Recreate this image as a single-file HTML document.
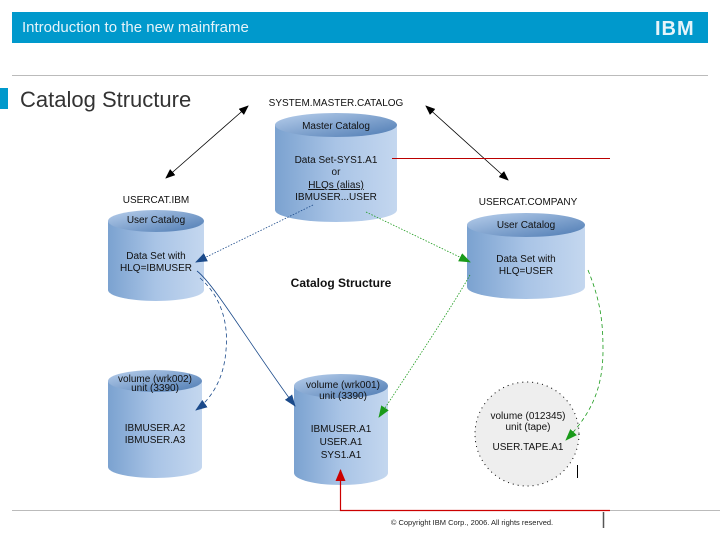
<!DOCTYPE html>
<html><head><meta charset="utf-8"><style>
body{margin:0;width:720px;height:540px;overflow:hidden;background:#fff;font-family:"Liberation Sans",sans-serif}
</style></head><body>
<svg width="720" height="540" viewBox="0 0 720 540" xmlns="http://www.w3.org/2000/svg" font-family="Liberation Sans, sans-serif">
<defs>
<linearGradient id="cg" x1="0" x2="1" y1="0" y2="0">
<stop offset="0" stop-color="#7ba2d0"/><stop offset="0.5" stop-color="#a9c4e6"/><stop offset="1" stop-color="#c4d7ef"/></linearGradient>
<linearGradient id="tg" x1="0" x2="1" y1="0" y2="1">
<stop offset="0" stop-color="#b8cfec"/><stop offset="1" stop-color="#4e7bb3"/></linearGradient>
<marker id="ak" markerWidth="10" markerHeight="8" refX="9" refY="4" orient="auto-start-reverse" markerUnits="userSpaceOnUse"><path d="M0,0L10,4L0,8z" fill="#000"/></marker>
<marker id="ab" markerWidth="12" markerHeight="9" refX="11" refY="4.5" orient="auto" markerUnits="userSpaceOnUse"><path d="M0,0L12,4.5L0,9z" fill="#1b4a8a"/></marker>
<marker id="ag" markerWidth="12" markerHeight="9" refX="11" refY="4.5" orient="auto" markerUnits="userSpaceOnUse"><path d="M0,0L12,4.5L0,9z" fill="#1a9a1a"/></marker>
<marker id="ar" markerWidth="10" markerHeight="12" refX="5" refY="1" orient="0" markerUnits="userSpaceOnUse"><path d="M0,12L5,0L10,12z" fill="#c00"/></marker>
</defs>
<rect x="12" y="12" width="696" height="31" fill="#0099cc"/>
<text x="22" y="32" font-size="15" fill="#e6f4fa">Introduction to the new mainframe</text>
<text x="655" y="35" font-size="20" font-weight="bold" fill="#e6f4fa" letter-spacing="1">IBM</text>
<line x1="12" y1="75.5" x2="708" y2="75.5" stroke="#bbb"/>
<rect x="0" y="88" width="8" height="21" fill="#0099cc"/>
<text x="20" y="107" font-size="22" fill="#333">Catalog Structure</text>

<!-- cylinders -->
<g>
<path d="M275,125 L275,210 A61,12 0 0 0 397,210 L397,125 Z" fill="url(#cg)"/>
<ellipse cx="336" cy="125" rx="61" ry="12" fill="url(#tg)"/>
</g>
<g>
<path d="M108,221 L108,290 A48,11 0 0 0 204,290 L204,221 Z" fill="url(#cg)"/>
<ellipse cx="156" cy="221" rx="48" ry="11" fill="url(#tg)"/>
</g>
<g>
<path d="M467,225 L467,287 A59,12 0 0 0 585,287 L585,225 Z" fill="url(#cg)"/>
<ellipse cx="526" cy="225" rx="59" ry="12" fill="url(#tg)"/>
</g>
<g>
<path d="M108,381 L108,467 A47,11 0 0 0 202,467 L202,381 Z" fill="url(#cg)"/>
<ellipse cx="155" cy="381" rx="47" ry="11" fill="url(#tg)"/>
</g>
<g>
<path d="M294,386 L294,473 A47,12 0 0 0 388,473 L388,386 Z" fill="url(#cg)"/>
<ellipse cx="341" cy="386" rx="47" ry="12" fill="url(#tg)"/>
</g>
<circle cx="527" cy="434" r="52" fill="#eee" stroke="#000" stroke-dasharray="1,4"/>
<rect x="571" y="465" width="40" height="20" fill="#fff"/>
<line x1="577.5" y1="465" x2="577.5" y2="478" stroke="#000"/>

<g font-size="10" fill="#111" text-anchor="middle">
<text x="336" y="106">SYSTEM.MASTER.CATALOG</text>
<text x="336" y="129">Master Catalog</text>
<text x="336" y="163">Data Set-SYS1.A1</text>
<text x="336" y="175">or</text>
<text x="336" y="188" text-decoration="underline">HLQs  (alias)</text>
<text x="336" y="200">IBMUSER...USER</text>
<text x="156" y="203">USERCAT.IBM</text>
<text x="156" y="223">User Catalog</text>
<text x="156" y="259">Data Set with</text>
<text x="156" y="271">HLQ=IBMUSER</text>
<text x="528" y="205">USERCAT.COMPANY</text>
<text x="526" y="228">User Catalog</text>
<text x="526" y="262">Data Set with</text>
<text x="526" y="274">HLQ=USER</text>
<text x="155" y="382">volume (wrk002)</text>
<text x="155" y="391">unit (3390)</text>
<text x="155" y="431">IBMUSER.A2</text>
<text x="155" y="443">IBMUSER.A3</text>
<text x="343" y="388">volume (wrk001)</text>
<text x="343" y="399">unit (3390)</text>
<text x="341" y="432">IBMUSER.A1</text>
<text x="341" y="445">USER.A1</text>
<text x="341" y="458">SYS1.A1</text>
<text x="528" y="419">volume (012345)</text>
<text x="528" y="430">unit (tape)</text>
<text x="528" y="450">USER.TAPE.A1</text>
</g>
<text x="341" y="287" font-size="12" font-weight="bold" text-anchor="middle" fill="#111">Catalog Structure</text>

<!-- arrows -->
<line x1="166" y1="178" x2="248" y2="106" stroke="#000" stroke-width="0.8" marker-start="url(#ak)" marker-end="url(#ak)"/>
<line x1="426" y1="106" x2="508" y2="180" stroke="#000" stroke-width="0.8" marker-start="url(#ak)" marker-end="url(#ak)"/>
<line x1="313" y1="205" x2="196" y2="262" stroke="#1b4a8a" stroke-width="0.8" stroke-dasharray="1.5,1.5" marker-end="url(#ab)"/>
<line x1="366" y1="212" x2="470" y2="262" stroke="#1a9a1a" stroke-width="0.8" stroke-dasharray="1.5,1.5" marker-end="url(#ag)"/>
<path d="M197,271 C215,285 250,345 295,406" fill="none" stroke="#1b4a8a" stroke-width="0.8" marker-end="url(#ab)"/>
<path d="M200,278 C225,300 228,330 226,350 C224,380 210,400 196,410" fill="none" stroke="#1b4a8a" stroke-width="0.8" stroke-dasharray="4,3" marker-end="url(#ab)"/>
<path d="M470,275 C450,310 410,370 379,417" fill="none" stroke="#1a9a1a" stroke-width="0.8" stroke-dasharray="1.5,1.5" marker-end="url(#ag)"/>
<path d="M588,270 C600,300 603,320 603,350 C603,390 590,415 566,440" fill="none" stroke="#1a9a1a" stroke-width="0.8" stroke-dasharray="4,3" marker-end="url(#ag)"/>
<line x1="392" y1="158.5" x2="610" y2="158.5" stroke="#b00" stroke-width="1"/>
<line x1="12" y1="510.5" x2="720" y2="510.5" stroke="#bbb"/>
<polyline points="610,510.5 340.5,510.5 340.5,470" fill="none" stroke="#c00" stroke-width="1.2" marker-end="url(#ar)"/>
<line x1="603.5" y1="512" x2="603.5" y2="528" stroke="#555" stroke-width="1.5"/>
<text x="472" y="525" font-size="7.5" text-anchor="middle" fill="#222">© Copyright IBM Corp., 2006. All rights reserved.</text>
</svg>
</body></html>
